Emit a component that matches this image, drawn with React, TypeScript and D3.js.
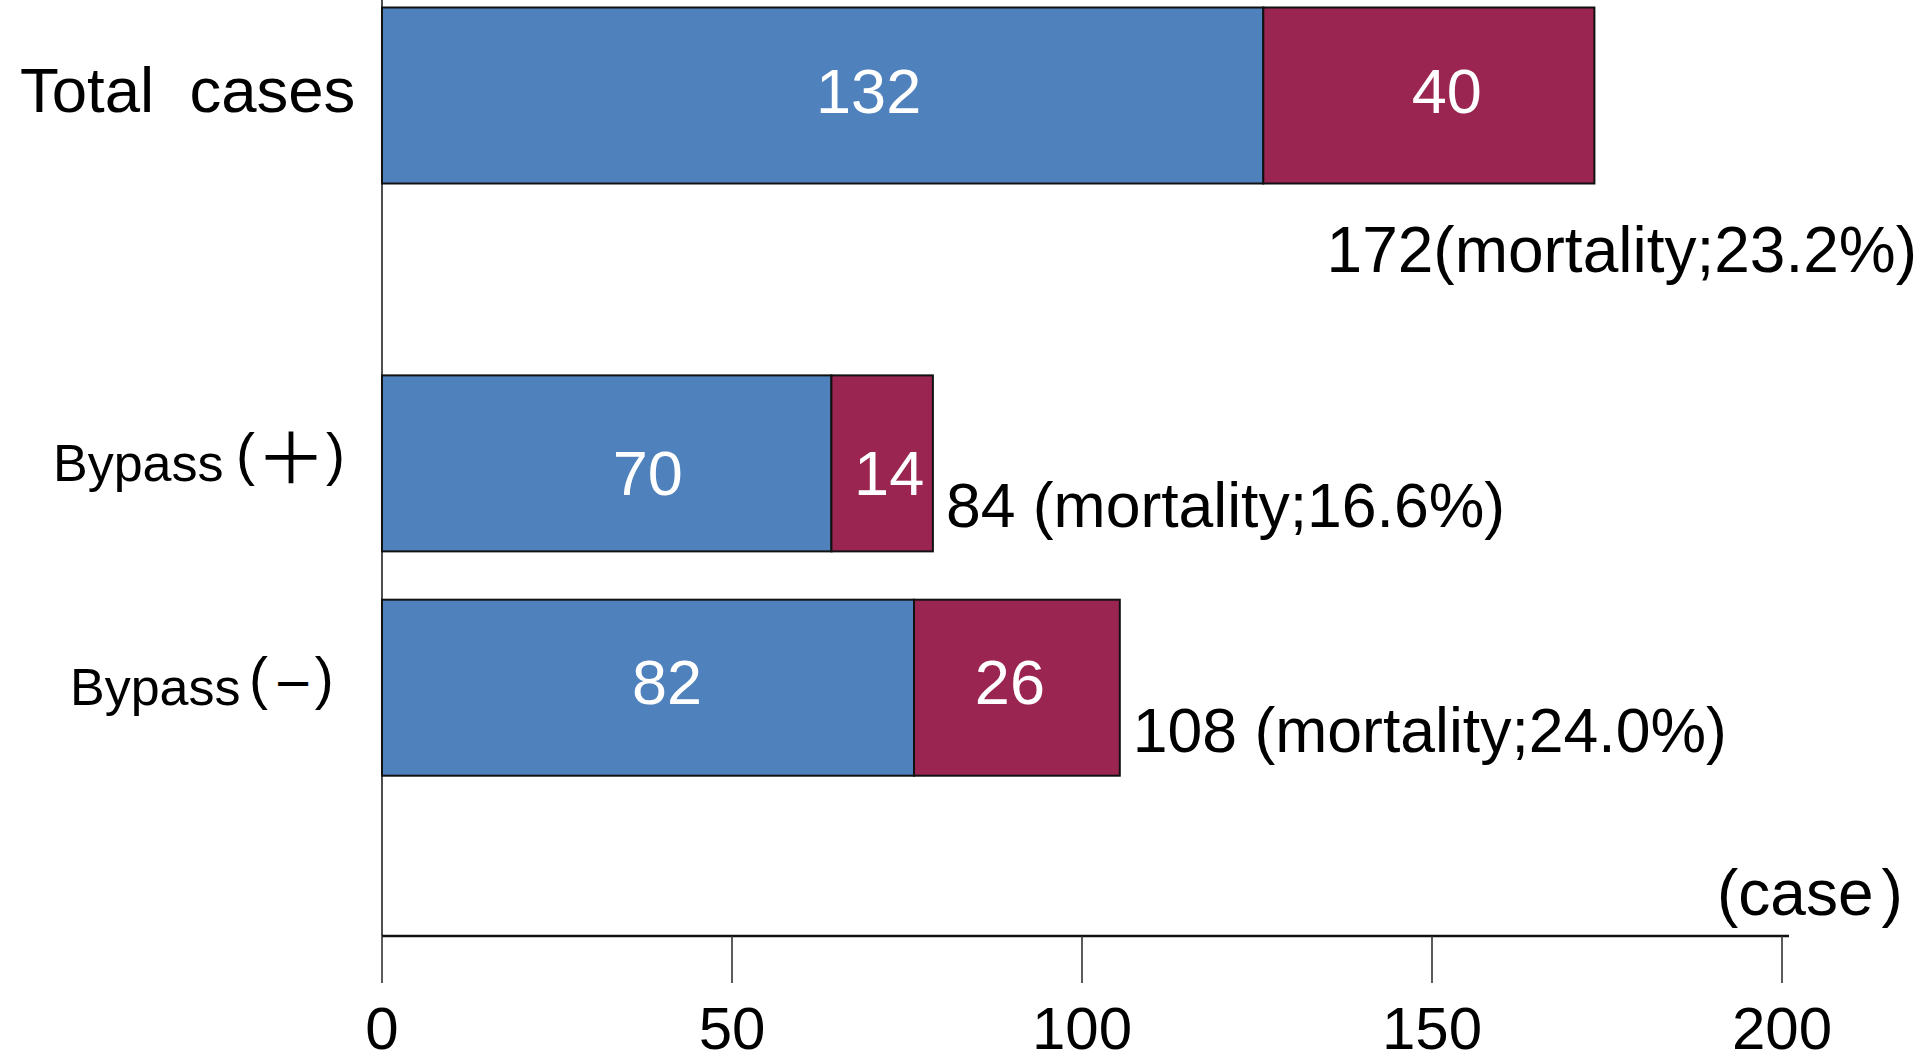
import React from "react";
import * as d3 from "d3";

// ---- data ----
const categories = ["Total cases", "Bypass(+)", "Bypass(-)"];
const survivedLabels = [132, 70, 82];
const diedLabels = [40, 14, 26];
const totals = [172, 84, 108];
const mortality = ["23.2%", "16.6%", "24.0%"];
const totalSeparators = ["", " ", " "];
// bar extents as drawn in the picture (case units on the axis)
const survivedBar = [125.9, 64.2, 76.0];
const diedBar = [47.3, 14.5, 29.4];
// vertical slot of each row (rows are not evenly spaced)
const rowSlots = [0, 1.64, 2.64];
const xTicks = [0, 50, 100, 150, 200];
const unitLabel = "(case";
const unitClose = ")";

// ---- layout / style ----
const W = 1920;
const H = 1061;
const LATIN = "'Liberation Sans', Arial, sans-serif";
const CJK = "'Noto Sans CJK JP', 'Noto Sans CJK SC', sans-serif";
const BLUE = "#4F81BD";
const RED = "#9A2550";
const labelStartX = [20, 53, 70];
const survivedLabelShift = [46, 41, 19];
const diedLabelShift = [18, 7, -7];
const valueLabelDy = [-5, 9, -6];

function CategoryLabel({ i, x, y }: { i: number; x: number; y: number }) {
  if (i === 0) {
    return (
      <text x={x} y={y - 5} fontSize={63.5} fontFamily={LATIN} fill="#000" style={{ whiteSpace: "pre" }}>
        {"Total  cases"}
      </text>
    );
  }
  if (i === 1) {
    return (
      <text x={x} y={y} fontSize={52} fontFamily={LATIN} fill="#000">
        Bypass
        <tspan fontSize={57} dx={12.5} dy={-7}>(</tspan>
        <tspan fontFamily={CJK} fontSize={70} dx={1} dy={10}>＋</tspan>
        <tspan fontSize={57} dx={0} dy={-10}>)</tspan>
      </text>
    );
  }
  return (
    <text x={x} y={y} fontSize={52} fontFamily={LATIN} fill="#000">
      Bypass
      <tspan fontSize={57} dx={8.5} dy={-7}>(</tspan>
      <tspan fontFamily="'DejaVu Sans', sans-serif" fontSize={48} dx={5} dy={1}>−</tspan>
      <tspan fontSize={57} dx={1.5} dy={-1}>)</tspan>
    </text>
  );
}

export default function App() {
  const x = d3.scaleLinear().domain([0, 200]).range([382, 1782]);
  const y = d3.scaleLinear().domain([0, 2.64]).range([95.5, 687.7]);
  const barH = 176;
  const axisY = 936;
  const tickLen = 47;

  return (
    <svg
      width={W}
      height={H}
      viewBox={`0 0 ${W} ${H}`}
      style={{ position: "absolute", left: 0, top: 0, background: "#fff" }}
      fontFamily={LATIN}
    >
      <rect x={0} y={0} width={W} height={H} fill="#fff" />

      {/* y axis line */}
      <line x1={x(0)} x2={x(0)} y1={0} y2={axisY} stroke="#222" strokeWidth={1.6} />

      {/* bars */}
      {categories.map((c, i) => {
        const cy = y(rowSlots[i]);
        const top = cy - barH / 2;
        const x0 = x(0);
        const x1 = x(survivedBar[i]);
        const x2 = x(survivedBar[i] + diedBar[i]);
        const ty = cy + 63 * 0.355 + valueLabelDy[i];
        return (
          <g key={c}>
            <rect x={x0} y={top} width={x1 - x0} height={barH} fill={BLUE} stroke="#111" strokeWidth={2} />
            <rect x={x1} y={top} width={x2 - x1} height={barH} fill={RED} stroke="#111" strokeWidth={2} />
            <text x={(x0 + x1) / 2 + survivedLabelShift[i]} y={ty} fontSize={63} fill="#fff" textAnchor="middle">
              {survivedLabels[i]}
            </text>
            <text x={(x1 + x2) / 2 + diedLabelShift[i]} y={ty} fontSize={63} fill="#fff" textAnchor="middle">
              {diedLabels[i]}
            </text>
          </g>
        );
      })}

      {/* category labels */}
      {categories.map((c, i) => (
        <CategoryLabel key={c} i={i} x={labelStartX[i]} y={y(rowSlots[i]) + (i === 0 ? 62 : 52) * 0.34} />
      ))}

      {/* total / mortality annotations */}
      {categories.map((c, i) => {
        const cy = y(rowSlots[i]);
        const label = `${totals[i]}${totalSeparators[i]}(mortality;${mortality[i]})`;
        if (i === 0) {
          return (
            <text key={c} x={W - 3} y={cy + barH / 2 + 88.5} fontSize={64} textAnchor="end" fill="#000">
              {label}
            </text>
          );
        }
        return (
          <text
            key={c}
            x={x(survivedBar[i] + diedBar[i]) + 13}
            y={cy + barH / 2 - 24}
            fontSize={62.5}
            textAnchor="start"
            fill="#000"
          >
            {label}
          </text>
        );
      })}

      {/* x axis */}
      <line x1={x(0)} x2={x(200) + 7} y1={axisY} y2={axisY} stroke="#111" strokeWidth={2.6} />
      {xTicks.map((t) => (
        <g key={t}>
          <line x1={x(t)} x2={x(t)} y1={axisY} y2={axisY + tickLen} stroke="#333" strokeWidth={1.6} />
          <text x={x(t)} y={1049} fontSize={60} textAnchor="middle" fill="#000">
            {t}
          </text>
        </g>
      ))}

      {/* unit label */}
      <text x={1717} y={915} fontSize={64} fill="#000">
        {unitLabel}
        <tspan dx={8}>{unitClose}</tspan>
      </text>
    </svg>
  );
}
